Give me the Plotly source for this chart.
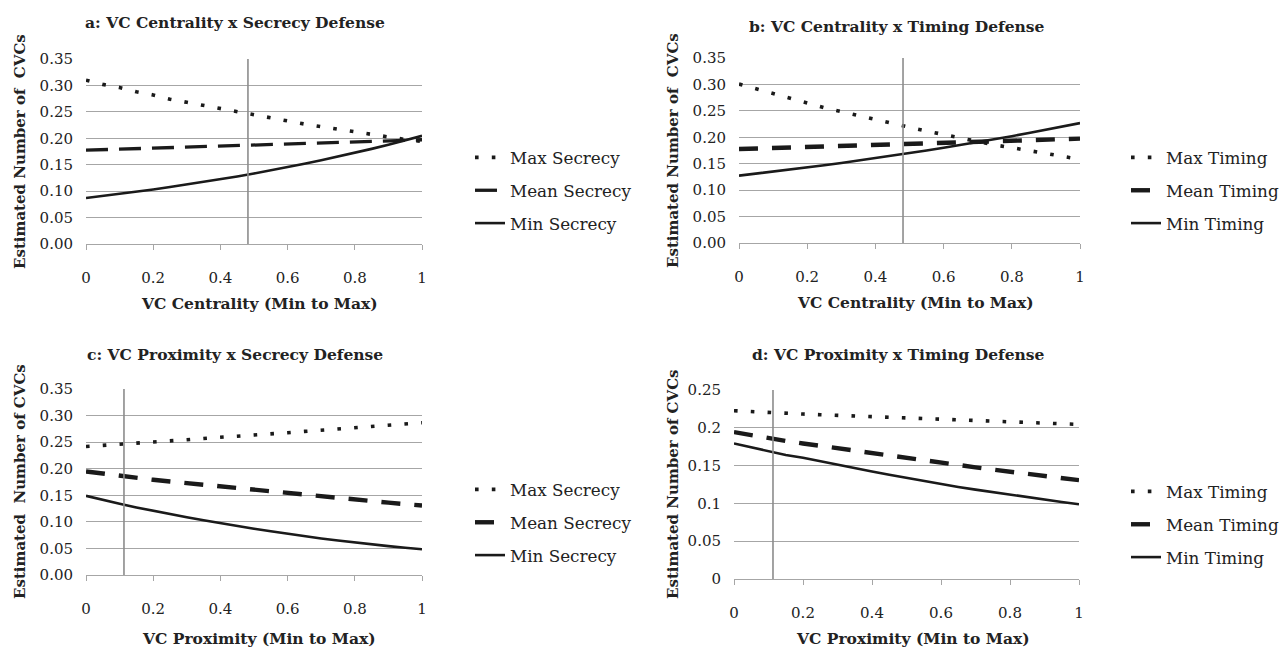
import plotly.graph_objects as go

FONT = "DejaVu Serif"
INK = "#1a1a1a"
GRID = "#a6a6a6"
VLINE = "#8c8c8c"

X = [0, 0.05, 0.1, 0.15, 0.2, 0.25, 0.3, 0.35, 0.4, 0.45, 0.5,
     0.55, 0.6, 0.65, 0.7, 0.75, 0.8, 0.85, 0.9, 0.95, 1.0]

# Panel a: VC Centrality x Secrecy Defense
a_max = [0.310, 0.302, 0.296, 0.288, 0.282, 0.274, 0.268, 0.262, 0.256, 0.250, 0.244,
         0.239, 0.233, 0.227, 0.222, 0.217, 0.2115, 0.2065, 0.202, 0.1977, 0.194]
a_mean = [0.1775, 0.1784, 0.1793, 0.1802, 0.1811, 0.1820, 0.1830, 0.1839, 0.1849, 0.1858, 0.1868,
          0.1878, 0.1888, 0.1898, 0.1908, 0.1918, 0.1928, 0.1938, 0.1948, 0.1960, 0.1972]
a_min = [0.0870, 0.0908, 0.0948, 0.0989, 0.1032, 0.1077, 0.1124, 0.1173, 0.1225, 0.1278, 0.1334,
         0.1392, 0.1453, 0.1517, 0.1583, 0.1652, 0.1725, 0.1800, 0.1879, 0.1961, 0.2046]

# Panel b: VC Centrality x Timing Defense
b_max = [0.3008, 0.2914, 0.2825, 0.2731, 0.2649, 0.2560, 0.2485, 0.2403, 0.2327, 0.2251, 0.2188,
         0.2119, 0.2050, 0.1980, 0.1917, 0.1854, 0.1804, 0.1747, 0.1690, 0.1633, 0.1583]
b_mean = [0.1778, 0.1787, 0.1796, 0.1806, 0.1815, 0.1825, 0.1834, 0.1844, 0.1853, 0.1863, 0.1873,
          0.1883, 0.1893, 0.1903, 0.1913, 0.1923, 0.1933, 0.1943, 0.1953, 0.1964, 0.1974]
b_min = [0.1274, 0.1311, 0.1350, 0.1389, 0.1430, 0.1471, 0.1514, 0.1559, 0.1604, 0.1651, 0.1700,
         0.1750, 0.1801, 0.1853, 0.1908, 0.1963, 0.2021, 0.2080, 0.2140, 0.2203, 0.2268]

# Panel c: VC Proximity x Secrecy Defense
c_max = [0.2419, 0.2438, 0.2457, 0.2482, 0.2501, 0.2526, 0.2545, 0.2570, 0.2589, 0.2614, 0.2633,
         0.2658, 0.2677, 0.2702, 0.2727, 0.2752, 0.2771, 0.2796, 0.2815, 0.2847, 0.2865]
c_mean = [0.1948, 0.1906, 0.1866, 0.1828, 0.1792, 0.1760, 0.1728, 0.1696, 0.1665, 0.1634, 0.1602,
          0.1571, 0.1540, 0.1509, 0.1478, 0.1446, 0.1415, 0.1388, 0.1361, 0.1334, 0.1307]
c_min = [0.1489, 0.1410, 0.1340, 0.1272, 0.1206, 0.1145, 0.1087, 0.1030, 0.0974, 0.0922, 0.0872,
         0.0822, 0.0773, 0.0729, 0.0688, 0.0648, 0.0610, 0.0577, 0.0543, 0.0512, 0.0484]

# Panel d: VC Proximity x Timing Defense
d_max = [0.2226, 0.2213, 0.2204, 0.2191, 0.2182, 0.2173, 0.2164, 0.2155, 0.2147, 0.2138, 0.2129,
         0.2120, 0.2116, 0.2107, 0.2098, 0.2089, 0.2080, 0.2071, 0.2063, 0.2054, 0.2045]
d_mean = [0.1943, 0.1900, 0.1862, 0.1826, 0.1793, 0.1760, 0.1727, 0.1694, 0.1661, 0.1630, 0.1599,
          0.1568, 0.1537, 0.1507, 0.1477, 0.1447, 0.1418, 0.1390, 0.1361, 0.1334, 0.1307]
d_min = [0.1793, 0.1740, 0.1689, 0.1640, 0.1605, 0.1557, 0.1511, 0.1466, 0.1421, 0.1378, 0.1336,
         0.1293, 0.1255, 0.1218, 0.1182, 0.1148, 0.1114, 0.1081, 0.1050, 0.1019, 0.0989]

# Reference (sample mean) positions of the moderator
ref_a = 0.482
ref_b = 0.481
ref_c = 0.113
ref_d = 0.113

titles = ["a: VC Centrality x Secrecy Defense", "b: VC Centrality x Timing Defense",
          "c: VC Proximity x Secrecy Defense", "d: VC Proximity x Timing Defense"]
xtitles = ["VC Centrality (Min to Max)", "VC Centrality (Min to Max)",
           "VC Proximity (Min to Max)", "VC Proximity (Min to Max)"]
ytitles = ["Estimated Number of\u00a0\u00a0CVCs", "Estimated Number of\u00a0\u00a0CVCs",
           "Estimated\u00a0\u00a0Number of CVCs", "Estimated Number of CVCs"]
sec_names = ["Max Secrecy", "Mean Secrecy", "Min Secrecy"]
tim_names = ["Max Timing", "Mean Timing", "Min Timing"]

W, H = 1285, 650

# pixel boxes of plot areas: (x0, x1, ytop, ybottom)
boxes = [(86, 422, 59, 244), (739, 1080, 58, 243), (86, 422, 389, 575), (734, 1079, 390, 579)]
yranges = [[0, 0.35], [0, 0.35], [0, 0.35], [0, 0.25]]
ytickvals = [[0, 0.05, 0.1, 0.15, 0.2, 0.25, 0.3, 0.35]] * 3 + [[0, 0.05, 0.1, 0.15, 0.2, 0.25]]
yfmt = [".2f", ".2f", ".2f", ""]

panels = [
    (a_max, a_mean, a_min, sec_names, ref_a),
    (b_max, b_mean, b_min, tim_names, ref_b),
    (c_max, c_mean, c_min, sec_names, ref_c),
    (d_max, d_mean, d_min, tim_names, ref_d),
]

dot_style = dict(dash="3.6px,13.2px", width=3.6)
solid_style = dict(dash="solid", width=2.6)
dash_styles = [
    dict(dash="22px,11px", width=3.3),
    dict(dash="19px,14px", width=4.4),
    dict(dash="19px,14px", width=4.4),
    dict(dash="19px,14px", width=4.4),
]

fig = go.Figure()

for i, (mx, mn, lo, names, ref) in enumerate(panels):
    k = "" if i == 0 else str(i + 1)
    leg = "legend" if i == 0 else "legend" + str(i + 1)
    for j, ys in enumerate([mx, mn, lo]):
        st = [dot_style, dash_styles[i], solid_style][j]
        fig.add_trace(go.Scatter(
            x=X, y=ys, mode="lines", name=names[j],
            line=dict(color=INK, **st),
            xaxis="x" + k, yaxis="y" + k, legend=leg, legendgroup=f"g{i}{j}",
        ))
    x0, x1, yt, yb = boxes[i]
    fig.update_layout(**{
        "xaxis" + k: dict(domain=[x0 / W, x1 / W], anchor="y" + k, range=[0, 1],
                          tickvals=[0, 0.2, 0.4, 0.6, 0.8, 1], showgrid=False,
                          showline=True, linecolor=GRID, linewidth=1, ticks="outside",
                          ticklen=5, tickcolor=GRID, zeroline=False, ticklabelstandoff=15,
                          automargin=False,
                          tickfont=dict(family=FONT, size=15, color="#222")),
        "yaxis" + k: dict(domain=[1 - yb / H, 1 - yt / H], anchor="x" + k, range=yranges[i],
                          tickvals=ytickvals[i], tickformat=yfmt[i], showgrid=True,
                          gridcolor=GRID, gridwidth=1, showline=False, zeroline=False,
                          ticks="", ticklabelstandoff=12, automargin=False,
                          tickfont=dict(family=FONT, size=15, color="#222")),
    })
    fig.add_shape(type="line", xref="x" + k, yref="y" + k + " domain",
                  x0=ref, x1=ref, y0=0, y1=1, line=dict(color=VLINE, width=1.6))

# titles and axis titles
title_pos = [(235, 22), (897, 27), (235, 355), (898, 354)]
xt_pos = [(259, 303), (915, 302), (259, 638), (913, 638)]
yt_pos = [(20, 152), (673, 151), (20, 482), (673, 484)]
for i in range(4):
    fig.add_annotation(text="<b>" + titles[i] + "</b>", xref="paper", yref="paper",
                       x=title_pos[i][0] / W, y=1 - title_pos[i][1] / H,
                       showarrow=False, xanchor="center", yanchor="middle",
                       font=dict(family=FONT, size=15.5, color="#222"))
    fig.add_annotation(text="<b>" + xtitles[i] + "</b>", xref="paper", yref="paper",
                       x=xt_pos[i][0] / W, y=1 - xt_pos[i][1] / H,
                       showarrow=False, xanchor="center", yanchor="middle",
                       font=dict(family=FONT, size=15.5, color="#222"))
    fig.add_annotation(text="<b>" + ytitles[i] + "</b>", xref="paper", yref="paper",
                       x=yt_pos[i][0] / W, y=1 - yt_pos[i][1] / H, textangle=-90,
                       showarrow=False, xanchor="center", yanchor="middle",
                       font=dict(family=FONT, size=15, color="#222"))

leg_pos = [(470, 140), (1126, 140), (470, 472), (1126, 474)]
for i in range(4):
    key = "legend" if i == 0 else "legend" + str(i + 1)
    fig.update_layout(**{key: dict(
        x=leg_pos[i][0] / W, y=1 - leg_pos[i][1] / H, xanchor="left", yanchor="top",
        bgcolor="rgba(0,0,0,0)", borderwidth=0, tracegroupgap=8,
        font=dict(family=FONT, size=16.8, color="#222"),
    )})

fig.update_layout(
    width=W, height=H, margin=dict(l=0, r=0, t=0, b=0, pad=0, autoexpand=False),
    paper_bgcolor="white", plot_bgcolor="white", showlegend=True,
    font=dict(family=FONT, color="#222"),
)

fig.write_html("out.html", config={"displayModeBar": False})

# remove default page margins so the 1285x650 figure fills the window exactly
with open("out.html", "r", encoding="utf-8") as fh:
    html = fh.read()
html = html.replace("<body>", '<body style="margin:0;padding:0;overflow:hidden">', 1)
with open("out.html", "w", encoding="utf-8") as fh:
    fh.write(html)
